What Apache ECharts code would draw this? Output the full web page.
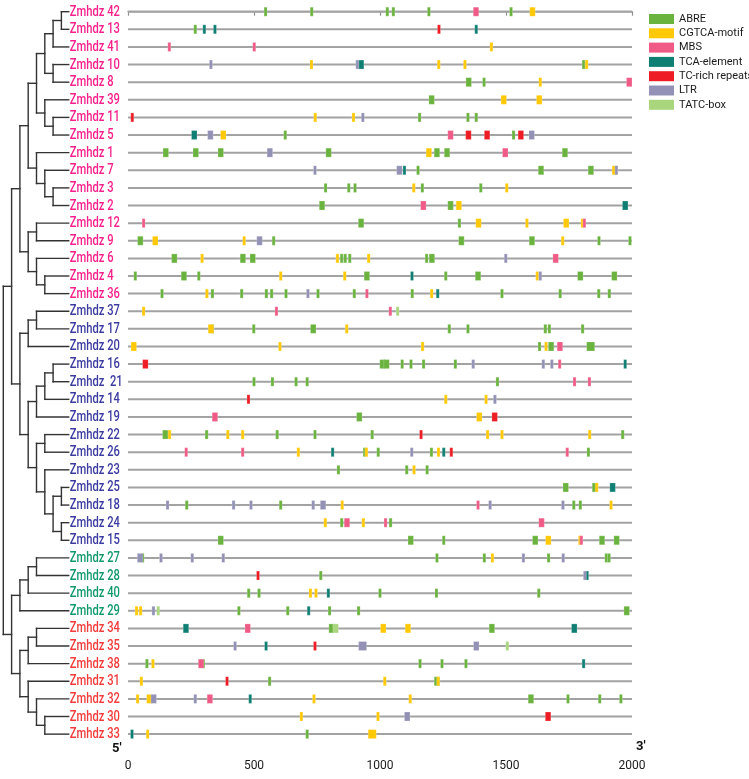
<!DOCTYPE html>
<html><head><meta charset="utf-8">
<script src="https://cdn.jsdelivr.net/npm/echarts@6/dist/echarts.min.js"></script>
<style>html,body{margin:0;padding:0;background:#fff}#c{width:749px;height:779px}</style>
</head><body><div id="c"></div>
<script>
// ---------------- DATA ----------------
const genes = ['Zmhdz 42','Zmhdz 13','Zmhdz 41','Zmhdz 10','Zmhdz 8','Zmhdz 39','Zmhdz 11','Zmhdz 5','Zmhdz 1','Zmhdz 7','Zmhdz 3','Zmhdz 2','Zmhdz 12','Zmhdz 9','Zmhdz 6','Zmhdz 4','Zmhdz 36',
  'Zmhdz 37','Zmhdz 17','Zmhdz 20','Zmhdz 16','Zmhdz  21','Zmhdz 14','Zmhdz 19','Zmhdz 22','Zmhdz 26','Zmhdz 23','Zmhdz 25','Zmhdz 18','Zmhdz 24','Zmhdz 15',
  'Zmhdz 27','Zmhdz 28','Zmhdz 40','Zmhdz 29',
  'Zmhdz 34','Zmhdz 35','Zmhdz 38','Zmhdz 31','Zmhdz 32','Zmhdz 30','Zmhdz 33'];
const geneGroup = [0,0,0,0,0,0,0,0,0,0,0,0,0,0,0,0,0, 1,1,1,1,1,1,1,1,1,1,1,1,1,1, 2,2,2,2, 3,3,3,3,3,3,3];
// dendrogram topology (leaf numbers = Zmhdz ids)
const treeNewick = '((((((((42,13),41),(10,8)),(39,(11,5))),(1,(7,(3,2)))),((12,9),(6,(4,36)))),(((37,17),20),((((16,21),14),19),((22,26),(23,((25,18),(24,15))))))),((((27,28),40),29),(((34,35),38),(31,(32,(30,33))))))';
const seqLength = 2000;
const xTicks = [0, 500, 1000, 1500, 2000];
const motifNames = ['ABRE','CGTCA-motif','MBS','TCA-element','TC-rich repeats','LTR','TATC-box'];
// each motif: [row, position (bp), length (bp)]
const T = 12, W = 22, X = 32;
const ABRE = [
[0,546,T],[0,729,T],[0,1029,T],[0,1053,T],[0,1194,T],[0,1520,T],
[1,267,T],[3,1808,T],[4,1352,W],[4,1413,T],[5,1205,W],
[6,1157,T],[6,1349,T],[6,1382,T],[7,624,T],[7,1530,T],
[8,150,W],[8,269,W],[8,368,W],[8,796,W],[8,1226,W],[8,1266,W],[8,1734,W],
[9,1151,T],[9,1639,W],[9,1837,W],
[10,784,T],[10,876,T],[10,901,T],[10,1168,T],[10,1400,T],
[11,770,W],[11,1280,W],[12,925,W],[12,1315,T],
[13,49,W],[13,578,T],[13,1323,W],[13,1603,W],[13,1869,T],[13,1992,T],
[14,184,W],[14,456,W],[14,495,W],[14,848,T],[14,862,T],[14,880,T],[14,1185,T],[14,1206,W],
[15,29,T],[15,222,W],[15,281,T],[15,948,W],[15,1261,T],[15,1389,W],[15,1795,W],[15,1930,W],
[16,135,T],[16,335,T],[16,451,T],[16,549,T],[16,570,T],[16,627,T],[16,754,T],[16,898,T],[16,1128,T],[16,1484,T],[16,1715,T],[16,1868,T],[16,1910,T],
[18,335,T],[18,499,T],[18,735,W],[18,1275,T],[18,1349,T],[18,1656,T],[18,1672,T],[18,1804,T],
[19,1633,T],[19,1679,W],[19,1836,X],
[20,1010,W],[20,1026,W],[20,1088,T],[20,1123,T],[20,1173,T],[20,1299,T],
[21,500,T],[21,573,T],[21,667,T],[21,711,T],[21,1466,T],
[23,918,W],
[24,148,W],[24,312,T],[24,592,T],[24,742,T],[24,969,T],[24,1963,T],
[25,939,T],[25,993,T],[25,1204,T],[25,1827,T],
[26,835,T],[26,1106,T],[26,1187,T],
[27,1737,W],[27,1853,W],
[28,233,T],[28,606,T],[28,1769,T],[28,1795,T],
[29,848,T],[29,1042,T],
[30,368,W],[30,1122,W],[30,1253,T],[30,1616,W],[30,1881,W],[30,1939,W],
[31,58,T],[31,1226,T],[31,1414,T],[31,1669,T],[31,1898,T],[31,1909,T],
[32,765,T],
[33,479,T],[33,520,T],[33,1000,T],[33,1224,T],[33,1630,T],
[34,440,T],[34,634,T],[34,800,T],[34,915,T],[34,1979,W],
[35,808,W],[35,1444,W],
[37,75,T],[37,299,T],[37,1159,T],[37,1246,T],[37,1341,T],
[38,562,T],[38,1226,W],
[39,1599,W],[39,1746,T],[39,1872,T],[39,1956,T],
[41,711,T]
];
const CGTCA = [
[0,1605,W],[2,1442,T],[3,728,T],[3,1233,T],[3,1337,T],[3,1820,T],[4,1636,T],
[5,1491,W],[5,1632,W],[6,743,T],[6,895,T],[7,378,W],[8,1194,W],[9,1932,W],
[10,1134,T],[10,1503,T],[11,1313,W],
[12,1391,W],[12,1583,T],[12,1739,W],[12,1803,T],
[13,108,W],[13,461,T],[13,1725,T],[14,294,T],[14,831,T],[14,955,T],
[15,606,T],[15,860,T],[15,1624,T],[16,313,T],[16,1205,T],[17,62,T],
[18,329,W],[18,868,T],[19,23,W],[19,603,T],[19,1169,T],[19,1659,T],
[22,1261,T],[22,1421,T],[23,1394,W],
[24,165,T],[24,396,T],[24,455,T],[24,1427,T],[24,1484,T],[24,1832,T],
[25,676,T],[25,946,T],[25,1232,T],[26,1135,T],[27,1860,T],[28,850,T],[28,1917,T],
[29,783,T],[29,934,T],[30,1668,W],[30,1793,T],[31,1446,T],[33,724,T],[33,746,T],
[34,34,T],[34,50,T],[35,1013,W],[35,1111,W],[37,99,T],
[38,53,T],[38,1019,T],[38,1231,T],[39,38,T],[39,85,W],[39,738,T],[39,1120,T],
[40,688,T],[40,992,T],[41,78,T],[41,969,X]
];
const MBS = [
[0,1381,W],[2,164,T],[2,501,T],[4,1989,W],[7,1280,W],[8,1497,W],[11,1172,W],
[12,62,T],[12,1811,T],[14,1697,W],[16,948,T],[17,589,T],[17,1041,T],[19,1714,W],
[20,1713,T],[21,1772,T],[21,1831,T],[23,345,W],[25,231,T],[25,455,T],[25,1743,T],
[28,1389,T],[29,869,W],[29,1022,T],[29,1641,W],[30,1799,T],[35,475,W],[37,290,W],[39,325,W]
];
const TCA = [
[1,303,T],[1,345,T],[1,1382,T],[3,925,W],[7,263,W],[9,1097,T],[11,1973,W],[15,1127,T],
[16,1229,T],[20,1973,T],[25,812,T],[25,1253,T],[27,1923,W],[32,1822,T],[33,795,T],
[34,717,T],[35,230,W],[35,1771,W],[36,548,T],[37,1808,T],[39,485,T],[41,16,T]
];
const TCrich = [
[1,1234,T],[6,17,T],[7,1351,W],[7,1425,W],[7,1559,W],[20,69,W],[22,478,T],[23,1455,W],
[24,1163,T],[25,1283,T],[32,516,T],[36,742,T],[38,393,T],[40,1667,W]
];
const LTR = [
[3,329,T],[3,910,T],[6,932,T],[7,327,W],[7,1602,W],[8,563,W],[9,742,T],[9,1077,W],[9,1938,T],
[13,522,W],[14,1499,T],[15,1636,T],[16,714,T],[20,1370,T],[20,1648,T],[20,1682,T],[22,1456,T],
[25,1126,T],[28,157,T],[28,419,T],[28,488,T],[28,735,T],[28,774,W],[28,1437,T],[28,1726,T],
[31,48,W],[31,131,T],[31,255,T],[31,378,T],[31,1569,T],[31,1727,T],[32,1813,T],[34,101,T],
[36,425,T],[36,931,X],[36,1382,W],[39,102,W],[39,267,T],[40,1108,W]
];
const TATC = [[17,1070,T],[34,120,T],[35,824,W],[36,1505,T]];
const motifData = [ABRE, CGTCA, MBS, TCA, TCrich, LTR, TATC];

// ---------------- STYLE ----------------
const motifColors = ['#6bb33f','#ffc907','#ef5b86','#0f7f73','#ee1c25','#9392b6','#a9d57d'];
const groupColors = ['#f7218c','#3b3ba0','#12996b','#f23b3b'];
const FONT = 'Roboto,"Liberation Sans",sans-serif';
const ROW0 = 11.7, ROWH = 17.62, N = genes.length;
const gridTop = ROW0 - ROWH/2, gridH = ROWH*N;
const LEAF_DEPTH = 7.88;

// ---- tree layout from topology ----
function parseNewick(s){
  let i = 0;
  function node(){
    if (s[i] === '('){ i++; const ch=[node()]; while(s[i]===','){ i++; ch.push(node()); } i++; return {children:ch}; }
    let t=''; while(i<s.length && /[0-9]/.test(s[i])) t+=s[i++]; return {leaf:t};
  }
  return node();
}
const rowOfId = id => genes.findIndex(g => g.replace(/\s+/g,' ') === 'Zmhdz ' + id);
const segs = [];
(function layout(n, d){
  if (n.leaf !== undefined){ n.x = LEAF_DEPTH; n.y = rowOfId(n.leaf); return; }
  n.children.forEach(c => layout(c, d+1));
  n.x = d;
  const f = n.children[0], l = n.children[n.children.length-1];
  n.y = (f.y + l.y)/2;
  segs.push([d, f.y, d, l.y]);
  n.children.forEach(c => segs.push([d, c.y, c.x, c.y]));
})(parseNewick(treeNewick), 0);

const chart = echarts.init(document.getElementById('c'), null, {renderer:'canvas'});
const motifSeries = motifNames.map((name, k) => ({
  name, type:'custom', xAxisIndex:0, yAxisIndex:0,
  itemStyle:{color: motifColors[k]},
  encode:{x:1, y:0},
  data: motifData[k],
  renderItem(params, api){
    const p = api.coord([api.value(1), api.value(0)]);
    const w = api.size([api.value(2), 0])[0];
    return {type:'rect', shape:{x:p[0]-w/2, y:p[1]-4.5, width:w, height:9},
      style:{fill: api.visual('color'), stroke:'rgba(255,255,255,0.35)', lineWidth:0.6}};
  }
}));

chart.setOption({
  animation:false,
  backgroundColor:'#fff',
  grid:[
    {left:128, right:749-632, top:gridTop, height:gridH},
    {left:3.3, width:83, top:gridTop, height:gridH}
  ],
  xAxis:[
    {gridIndex:0, type:'value', min:0, max:seqLength, interval:500, offset:12,
     axisLine:{lineStyle:{color:'#8f8f8f', width:1.3}},
     axisTick:{show:true, length:4, lineStyle:{color:'#8f8f8f', width:1.2}},
     axisLabel:{color:'#1a1a1a', fontSize:12, margin:5, fontFamily:FONT,
       formatter: v => xTicks.includes(v) ? String(v) : ''},
     splitLine:{show:false}},
    {gridIndex:1, type:'value', min:0, max:10, show:false}
  ],
  yAxis:[
    {gridIndex:0, type:'value', min:-0.5, max:N-0.5, inverse:true, show:false},
    {gridIndex:1, type:'value', min:-0.5, max:N-0.5, inverse:true, show:false}
  ],
  legend:{
    orient:'vertical', left:644, top:8, icon:'rect', itemWidth:25, itemHeight:10, itemGap:2.3,
    data: motifNames, selectedMode:false,
    textStyle:{fontFamily:FONT, fontSize:11, color:'#1a1a1a', lineHeight:12}
  },
  graphic:[
    {type:'text', left:112, top:742, style:{text:"5'", font:'bold 13px ' + FONT, fill:'#111'}},
    {type:'text', left:636, top:740, style:{text:"3'", font:'bold 13px ' + FONT, fill:'#111'}}
  ],
  series:[
    {type:'custom', name:'genes', xAxisIndex:0, yAxisIndex:0, encode:{x:0, y:1},
     data: genes.map((g,i)=>[0, i, seqLength]),
     renderItem(params, api){
       const a = api.coord([api.value(0), api.value(1)]);
       const b = api.coord([api.value(2), api.value(1)]);
       return {type:'line', shape:{x1:a[0], y1:a[1], x2:b[0], y2:b[1]}, style:{stroke:'#a2a2a2', lineWidth:2}};
     }},
    ...motifSeries,
    {type:'custom', name:'tree', xAxisIndex:1, yAxisIndex:1, encode:{x:[0,2], y:[1,3]},
     data: segs,
     renderItem(params, api){
       const a = api.coord([api.value(0), api.value(1)]);
       const b = api.coord([api.value(2), api.value(3)]);
       return {type:'line', shape:{x1:a[0], y1:a[1], x2:b[0], y2:b[1]}, style:{stroke:'#333', lineWidth:1.4, lineCap:'square'}};
     }},
    {type:'custom', name:'labels', xAxisIndex:1, yAxisIndex:1, encode:{x:0, y:1},
     data: genes.map((g,i)=>[LEAF_DEPTH, i]),
     renderItem(params, api){
       const i = api.value(1);
       const p = api.coord([api.value(0), i]);
       return {type:'text', x:p[0]+1, y:p[1]+0.5, scaleX:0.8,
         style:{text: genes[i], fill: groupColors[geneGroup[i]], font:'500 14px ' + FONT, align:'left', verticalAlign:'middle'}};
     }}
  ]
});
</script></body></html>
